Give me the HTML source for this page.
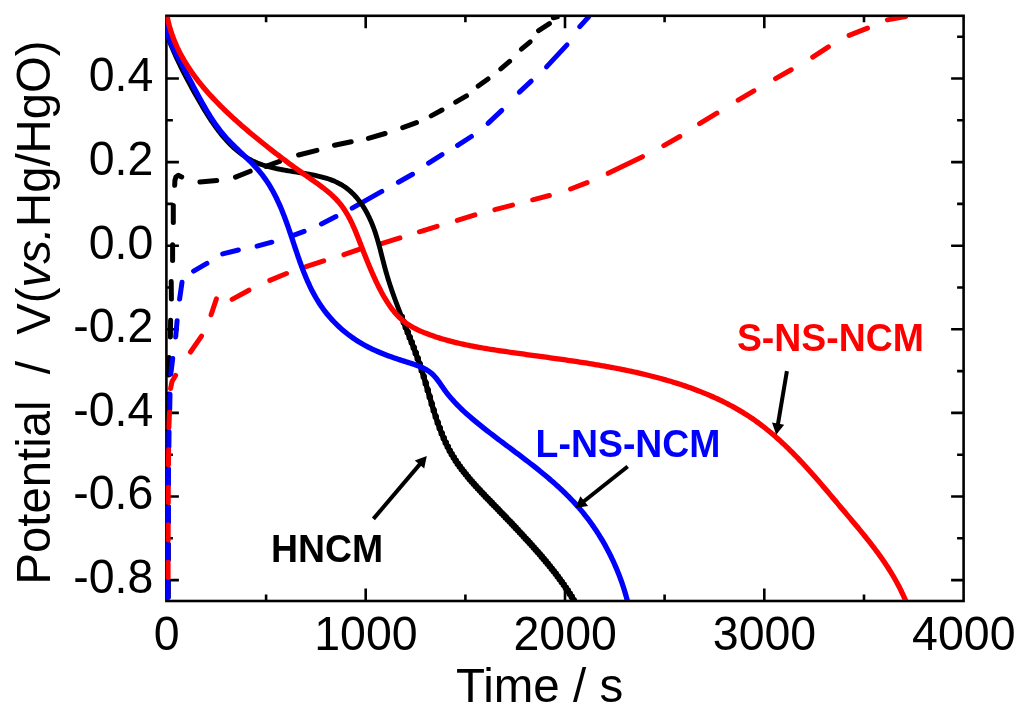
<!DOCTYPE html>
<html><head><meta charset="utf-8"><style>
html,body{margin:0;padding:0;background:#fff;width:1024px;height:714px;overflow:hidden;}
svg{display:block;font-family:"Liberation Sans",sans-serif;will-change:transform;}
</style></head><body>
<svg width="1024" height="714" viewBox="0 0 1024 714">
<rect width="1024" height="714" fill="#fff"/>
<path d="M266.1,601.0 V594.5 M266.1,15.8 V22.3 M365.7,601.0 V588.5 M365.7,15.8 V28.3 M465.4,601.0 V594.5 M465.4,15.8 V22.3 M565.0,601.0 V588.5 M565.0,15.8 V28.3 M664.6,601.0 V594.5 M664.6,15.8 V22.3 M764.3,601.0 V588.5 M764.3,15.8 V28.3 M864.0,601.0 V594.5 M864.0,15.8 V22.3 M166.4,580.1 H178.9 M963.6,580.1 H951.1 M166.4,538.3 H172.9 M963.6,538.3 H957.1 M166.4,496.5 H178.9 M963.6,496.5 H951.1 M166.4,454.7 H172.9 M963.6,454.7 H957.1 M166.4,412.9 H178.9 M963.6,412.9 H951.1 M166.4,371.1 H172.9 M963.6,371.1 H957.1 M166.4,329.3 H178.9 M963.6,329.3 H951.1 M166.4,287.5 H172.9 M963.6,287.5 H957.1 M166.4,245.7 H178.9 M963.6,245.7 H951.1 M166.4,203.9 H172.9 M963.6,203.9 H957.1 M166.4,162.1 H178.9 M963.6,162.1 H951.1 M166.4,120.3 H172.9 M963.6,120.3 H957.1 M166.4,78.5 H178.9 M963.6,78.5 H951.1 M166.4,36.7 H172.9 M963.6,36.7 H957.1" stroke="#000" stroke-width="2.6" fill="none"/>
<rect x="166.4" y="15.8" width="797.2" height="585.2" fill="none" stroke="#000" stroke-width="2.6"/>
<defs><clipPath id="pc"><rect x="165.8" y="16.8" width="796.5" height="583.3"/></clipPath></defs>
<g clip-path="url(#pc)" fill="none" stroke-linecap="round" stroke-linejoin="round">
<path d="M168.3,597.0 L168.3,581.5" stroke="#000" stroke-width="5.0"/>
<path d="M168.3,559.5 L168.3,544.0" stroke="#000" stroke-width="5.0"/>
<path d="M168.3,522.0 L168.3,506.5" stroke="#000" stroke-width="5.0"/>
<path d="M168.4,484.5 L168.4,469.0" stroke="#000" stroke-width="5.0"/>
<path d="M168.6,447.0 L168.6,431.5" stroke="#000" stroke-width="5.0"/>
<path d="M168.8,409.5 L168.8,394.0" stroke="#000" stroke-width="5.0"/>
<path d="M168.9,375.1 L169.0,357.5" stroke="#000" stroke-width="5.0"/>
<path d="M170.4,337.0 L170.6,320.3" stroke="#000" stroke-width="5.0"/>
<path d="M171.4,299.1 L171.2,281.6" stroke="#000" stroke-width="5.0"/>
<path d="M172.6,260.4 L172.6,244.8" stroke="#000" stroke-width="5.0"/>
<path d="M173.3,222.4 L173.3,205.6" stroke="#000" stroke-width="5.0"/>
<path d="M174.7,185.3 L174.9,180.5 L175.9,177.0 L178.3,175.3 L181.7,176.9" stroke="#000" stroke-width="5.0"/>
<path d="M199.9,182.1 L216.7,180.4" stroke="#000" stroke-width="5.0"/>
<path d="M235.5,177.1 L250.2,171.2" stroke="#000" stroke-width="5.0"/>
<path d="M265.9,166.3 L279.6,161.4" stroke="#000" stroke-width="5.0"/>
<path d="M298.6,155.0 L316.9,150.3" stroke="#000" stroke-width="5.0"/>
<path d="M334.5,145.3 L351.2,141.8" stroke="#000" stroke-width="5.0"/>
<path d="M368.4,138.4 L385.1,133.5" stroke="#000" stroke-width="5.0"/>
<path d="M402.7,127.6 L416.5,122.7" stroke="#000" stroke-width="5.0"/>
<path d="M431.2,115.9 L442.0,110.0" stroke="#000" stroke-width="5.0"/>
<path d="M455.7,102.2 L466.5,95.9" stroke="#000" stroke-width="5.0"/>
<path d="M478.2,86.1 L488.0,79.0" stroke="#000" stroke-width="5.0"/>
<path d="M500.8,68.8 L509.6,61.4" stroke="#000" stroke-width="5.0"/>
<path d="M521.4,49.2 L530.2,41.8" stroke="#000" stroke-width="5.0"/>
<path d="M538.6,30.6 L549.4,23.7" stroke="#000" stroke-width="5.0"/>
<path d="M553.3,17.8 L557.3,16.9" stroke="#000" stroke-width="5.0"/>
<path d="M168.1,597.5 L168.1,581.8" stroke="#00f" stroke-width="5.0"/>
<path d="M168.2,559.7 L168.2,544.3" stroke="#00f" stroke-width="5.0"/>
<path d="M168.4,522.2 L168.4,506.8" stroke="#00f" stroke-width="5.0"/>
<path d="M168.5,484.7 L168.5,469.3" stroke="#00f" stroke-width="5.0"/>
<path d="M168.8,447.2 L169.0,431.8" stroke="#00f" stroke-width="5.0"/>
<path d="M169.7,409.7 L170.0,394.3" stroke="#00f" stroke-width="5.0"/>
<path d="M170.8,374.1 L172.7,358.4" stroke="#00f" stroke-width="5.0"/>
<path d="M175.7,336.9 L177.1,320.8" stroke="#00f" stroke-width="5.0"/>
<path d="M179.6,299.1 L182.0,282.3" stroke="#00f" stroke-width="5.0"/>
<path d="M193.6,271.1 L206.9,263.4" stroke="#00f" stroke-width="5.0"/>
<path d="M222.7,253.9 L238.4,250.0" stroke="#00f" stroke-width="5.0"/>
<path d="M257.1,246.1 L271.8,242.2" stroke="#00f" stroke-width="5.0"/>
<path d="M293.3,235.3 L304.1,231.4" stroke="#00f" stroke-width="5.0"/>
<path d="M321.4,223.9 L335.9,216.6" stroke="#00f" stroke-width="5.0"/>
<path d="M352.2,208.2 L381.8,191.4" stroke="#00f" stroke-width="5.0"/>
<path d="M398.4,182.2 L412.5,174.3" stroke="#00f" stroke-width="5.0"/>
<path d="M428.6,163.1 L442.0,154.7" stroke="#00f" stroke-width="5.0"/>
<path d="M457.6,145.3 L471.4,136.5" stroke="#00f" stroke-width="5.0"/>
<path d="M488.0,123.3 L501.8,110.4" stroke="#00f" stroke-width="5.0"/>
<path d="M519.4,92.2 L531.2,81.2" stroke="#00f" stroke-width="5.0"/>
<path d="M546.5,66.9 L567.0,44.9" stroke="#00f" stroke-width="5.0"/>
<path d="M579.8,26.7 L588.6,16.9" stroke="#00f" stroke-width="5.0"/>
<path d="M168.1,577.6 L168.1,562.2" stroke="#f00" stroke-width="5.0"/>
<path d="M168.2,540.1 L168.2,524.7" stroke="#f00" stroke-width="5.0"/>
<path d="M168.3,502.6 L168.3,487.2" stroke="#f00" stroke-width="5.0"/>
<path d="M168.5,465.1 L168.6,449.7" stroke="#f00" stroke-width="5.0"/>
<path d="M168.9,427.6 L169.5,412.2" stroke="#f00" stroke-width="5.0"/>
<path d="M170.6,388.5 L172.0,381.5 L175.6,375.5" stroke="#f00" stroke-width="5.0"/>
<path d="M190.5,352.0 L201.5,336.1" stroke="#f00" stroke-width="5.0"/>
<path d="M211.1,314.8 L216.4,298.9" stroke="#f00" stroke-width="5.0"/>
<path d="M232.1,299.4 L248.9,290.2" stroke="#f00" stroke-width="5.0"/>
<path d="M269.8,280.4 L286.5,273.5" stroke="#f00" stroke-width="5.0"/>
<path d="M306.1,266.7 L323.7,260.8" stroke="#f00" stroke-width="5.0"/>
<path d="M343.9,254.7 L360.6,248.8" stroke="#f00" stroke-width="5.0"/>
<path d="M381.5,243.7 L399.9,237.9" stroke="#f00" stroke-width="5.0"/>
<path d="M419.4,231.8 L437.1,226.3" stroke="#f00" stroke-width="5.0"/>
<path d="M457.3,220.4 L474.9,214.9" stroke="#f00" stroke-width="5.0"/>
<path d="M494.9,209.6 L512.5,205.1" stroke="#f00" stroke-width="5.0"/>
<path d="M532.7,199.8 L549.4,195.5" stroke="#f00" stroke-width="5.0"/>
<path d="M570.6,189.0 L587.1,182.7" stroke="#f00" stroke-width="5.0"/>
<path d="M608.2,173.3 L642.5,156.7" stroke="#f00" stroke-width="5.0"/>
<path d="M663.8,145.6 L679.8,136.5" stroke="#f00" stroke-width="5.0"/>
<path d="M699.6,123.7 L716.9,113.2" stroke="#f00" stroke-width="5.0"/>
<path d="M738.2,100.2 L753.9,90.8" stroke="#f00" stroke-width="5.0"/>
<path d="M775.5,78.6 L791.2,69.8" stroke="#f00" stroke-width="5.0"/>
<path d="M812.7,57.1 L828.4,46.9" stroke="#f00" stroke-width="5.0"/>
<path d="M849.1,35.3 L867.5,28.2" stroke="#f00" stroke-width="5.0"/>
<path d="M887.4,19.9 L905.7,16.5" stroke="#f00" stroke-width="5.0"/>
<path d="M163.39,24.76 L164.03,26.67 L164.68,28.56 L165.35,30.45 L166.02,32.33 L166.71,34.20 L167.40,36.06 L168.11,37.92 L168.83,39.77 L169.56,41.61 L170.30,43.44 L171.05,45.27 L171.81,47.09 L172.58,48.91 L173.36,50.72 L174.15,52.52 L174.95,54.32 L175.76,56.12 L176.58,57.91 L177.41,59.70 L178.25,61.48 L179.10,63.26 L179.95,65.04 L180.82,66.81 L181.70,68.58 L182.58,70.35 L183.47,72.12 L184.37,73.88 L185.28,75.65 L186.20,77.41 L187.12,79.17 L188.06,80.93 L189.00,82.69 L189.95,84.45 L190.90,86.21 L191.87,87.97 L192.84,89.73 L193.82,91.49 L194.81,93.25 L195.80,95.02 L196.80,96.78 L197.81,98.55 L198.82,100.32 L199.84,102.09 L200.87,103.86 L201.91,105.63 L202.95,107.39 L204.01,109.15 L205.07,110.91 L206.15,112.66 L207.23,114.40 L208.33,116.14 L209.44,117.86 L210.56,119.58 L211.69,121.28 L212.84,122.97 L214.00,124.65 L215.18,126.31 L216.36,127.95 L217.57,129.58 L218.79,131.19 L220.02,132.78 L221.27,134.35 L222.54,135.90 L223.83,137.42 L225.13,138.92 L226.45,140.40 L227.79,141.85 L229.15,143.27 L230.53,144.67 L231.92,146.03 L233.34,147.37 L234.78,148.67 L236.25,149.94 L237.73,151.17 L239.24,152.38 L240.76,153.54 L242.32,154.67 L243.89,155.76 L245.49,156.81 L247.12,157.82 L248.77,158.79 L250.45,159.71 L252.15,160.60 L253.88,161.43 L255.63,162.23 L257.41,162.98 L259.22,163.68 L261.05,164.35 L262.90,164.99 L264.77,165.59 L266.66,166.15 L268.58,166.69 L270.50,167.20 L272.45,167.68 L274.41,168.14 L276.39,168.57 L278.38,168.98 L280.39,169.38 L282.40,169.76 L284.43,170.12 L286.46,170.48 L288.51,170.82 L290.56,171.16 L292.61,171.49 L294.67,171.81 L296.74,172.14 L298.80,172.46 L300.86,172.79 L302.92,173.13 L304.97,173.47 L307.02,173.83 L309.06,174.19 L311.09,174.57 L313.11,174.97 L315.12,175.39 L317.11,175.83 L319.09,176.29 L321.05,176.78 L322.99,177.29 L324.91,177.84 L326.81,178.42 L328.69,179.03 L330.53,179.68 L332.36,180.37 L334.15,181.10 L335.91,181.88 L337.64,182.70 L339.34,183.57 L341.01,184.49 L342.63,185.47 L344.22,186.49 L345.77,187.58 L347.28,188.71 L348.76,189.89 L350.20,191.12 L351.60,192.40 L352.97,193.72 L354.30,195.08 L355.59,196.49 L356.86,197.94 L358.08,199.42 L359.28,200.95 L360.43,202.51 L361.56,204.10 L362.65,205.72 L363.71,207.37 L364.74,209.06 L365.74,210.77 L366.70,212.50 L367.63,214.26 L368.54,216.05 L369.41,217.85 L370.25,219.67 L371.06,221.51 L371.84,223.37 L372.60,225.24 L373.32,227.12 L374.02,229.01 L374.70,230.92 L375.35,232.83 L375.97,234.76 L376.58,236.69 L377.17,238.63 L377.74,240.58 L378.30,242.54 L378.85,244.49 L379.38,246.46 L379.90,248.43 L380.42,250.39 L380.93,252.37 L381.43,254.34 L381.93,256.31 L382.43,258.28 L382.94,260.25 L383.44,262.22 L383.95,264.19 L384.46,266.15 L384.98,268.11 L385.51,270.06 L386.06,272.00 L386.61,273.94 L387.18,275.87 L387.75,277.80 L388.34,279.71 L388.94,281.63 L389.55,283.53 L390.17,285.43 L390.80,287.33 L391.43,289.22 L392.08,291.11 L392.73,292.99 L393.39,294.86 L394.06,296.74 L394.74,298.61 L395.42,300.47 L396.10,302.33 L396.80,304.19 L397.50,306.05 L398.20,307.90 L398.91,309.75 L399.62,311.60 L400.33,313.45 L401.05,315.29 L401.77,317.14 L402.49,318.98 L403.22,320.82 L403.95,322.66 L404.67,324.50 L405.40,326.34 L406.13,328.18 L406.86,330.02 L407.58,331.86 L408.31,333.71 L409.04,335.55 L409.76,337.39 L410.48,339.24 L411.20,341.08 L411.91,342.93 L412.62,344.78 L413.33,346.64 L414.03,348.49 L414.73,350.35 L415.43,352.21 L416.11,354.08 L416.79,355.95 L417.47,357.82 L418.14,359.70 L418.80,361.58 L419.45,363.46 L420.10,365.35 L420.73,367.25 L421.36,369.15 L421.98,371.06 L422.59,372.97 L423.19,374.89 L423.79,376.81 L424.37,378.73 L424.95,380.66 L425.53,382.59 L426.10,384.53 L426.67,386.46 L427.24,388.40 L427.80,390.34 L428.37,392.28 L428.93,394.22 L429.49,396.16 L430.06,398.10 L430.62,400.04 L431.19,401.98 L431.77,403.91 L432.34,405.84 L432.93,407.78 L433.51,409.70 L434.11,411.63 L434.71,413.54 L435.32,415.46 L435.95,417.37 L436.58,419.27 L437.22,421.17 L437.87,423.06 L438.54,424.95 L439.21,426.82 L439.91,428.69 L440.61,430.55 L441.34,432.41 L442.07,434.25 L442.83,436.08 L443.60,437.91 L444.40,439.72 L445.21,441.52 L446.04,443.31 L446.89,445.09 L447.77,446.86 L448.67,448.61 L449.59,450.35 L450.53,452.08 L451.50,453.79 L452.50,455.49 L453.52,457.17 L454.56,458.84 L455.63,460.50 L456.72,462.14 L457.84,463.77 L458.97,465.39 L460.13,467.00 L461.31,468.59 L462.50,470.18 L463.71,471.75 L464.94,473.31 L466.19,474.87 L467.45,476.41 L468.73,477.94 L470.02,479.47 L471.32,480.99 L472.64,482.50 L473.97,484.00 L475.31,485.50 L476.66,486.99 L478.02,488.47 L479.38,489.95 L480.76,491.43 L482.14,492.89 L483.53,494.36 L484.92,495.82 L486.32,497.28 L487.72,498.73 L489.12,500.18 L490.52,501.63 L491.93,503.08 L493.34,504.52 L494.74,505.97 L496.15,507.41 L497.55,508.86 L498.95,510.30 L500.35,511.74 L501.74,513.19 L503.14,514.63 L504.53,516.08 L505.91,517.53 L507.30,518.98 L508.68,520.42 L510.06,521.87 L511.44,523.32 L512.82,524.78 L514.19,526.23 L515.56,527.69 L516.93,529.14 L518.29,530.60 L519.65,532.06 L521.01,533.52 L522.37,534.99 L523.72,536.45 L525.08,537.92 L526.42,539.40 L527.77,540.87 L529.11,542.35 L530.46,543.83 L531.79,545.31 L533.13,546.80 L534.45,548.29 L535.78,549.78 L537.10,551.28 L538.41,552.78 L539.72,554.29 L541.03,555.80 L542.33,557.31 L543.62,558.83 L544.91,560.36 L546.19,561.89 L547.46,563.43 L548.72,564.97 L549.98,566.52 L551.23,568.07 L552.47,569.63 L553.70,571.20 L554.93,572.77 L556.14,574.35 L557.35,575.94 L558.54,577.53 L559.73,579.13 L560.90,580.74 L562.07,582.36 L563.22,583.99 L564.36,585.62 L565.49,587.26 L566.61,588.92 L567.72,590.58 L568.81,592.24 L569.89,593.92 L570.96,595.61 L572.02,597.31 L573.06,599.01 L574.09,600.73" stroke="#000" stroke-width="4.9"/>
<path d="M401.77,317.14 L402.49,318.98 L403.22,320.82 L403.95,322.66 L404.67,324.50 L405.40,326.34 L406.13,328.18 L406.86,330.02 L407.58,331.86 L408.31,333.71 L409.04,335.55 L409.76,337.39 L410.48,339.24 L411.20,341.08 L411.91,342.93 L412.62,344.78 L413.33,346.64 L414.03,348.49 L414.73,350.35 L415.43,352.21 L416.11,354.08 L416.79,355.95 L417.47,357.82 L418.14,359.70 L418.80,361.58 L419.45,363.46 L420.10,365.35 L420.73,367.25 L421.36,369.15 L421.98,371.06 L422.59,372.97 L423.19,374.89 L423.79,376.81 L424.37,378.73 L424.95,380.66 L425.53,382.59 L426.10,384.53 L426.67,386.46 L427.24,388.40 L427.80,390.34 L428.37,392.28 L428.93,394.22 L429.49,396.16 L430.06,398.10 L430.62,400.04 L431.19,401.98 L431.77,403.91 L432.34,405.84 L432.93,407.78 L433.51,409.70 L434.11,411.63 L434.71,413.54 L435.32,415.46 L435.95,417.37 L436.58,419.27 L437.22,421.17 L437.87,423.06 L438.54,424.95 L439.21,426.82 L439.91,428.69 L440.61,430.55 L441.34,432.41 L442.07,434.25 L442.83,436.08 L443.60,437.91 L444.40,439.72 L445.21,441.52 L446.04,443.31 L446.89,445.09 L447.77,446.86 L448.67,448.61 L449.59,450.35 L450.53,452.08 L451.50,453.79 L452.50,455.49 L453.52,457.17 L454.56,458.84 L455.63,460.50 L456.72,462.14 L457.84,463.77 L458.97,465.39 L460.13,467.00 L461.31,468.59 L462.50,470.18 L463.71,471.75 L464.94,473.31 L466.19,474.87 L467.45,476.41 L468.73,477.94 L470.02,479.47 L471.32,480.99 L472.64,482.50 L473.97,484.00 L475.31,485.50 L476.66,486.99 L478.02,488.47 L479.38,489.95 L480.76,491.43 L482.14,492.89 L483.53,494.36 L484.92,495.82 L486.32,497.28 L487.72,498.73 L489.12,500.18 L490.52,501.63 L491.93,503.08 L493.34,504.52 L494.74,505.97 L496.15,507.41 L497.55,508.86 L498.95,510.30 L500.35,511.74 L501.74,513.19 L503.14,514.63 L504.53,516.08 L505.91,517.53 L507.30,518.98 L508.68,520.42 L510.06,521.87 L511.44,523.32 L512.82,524.78 L514.19,526.23 L515.56,527.69 L516.93,529.14 L518.29,530.60 L519.65,532.06 L521.01,533.52 L522.37,534.99 L523.72,536.45 L525.08,537.92 L526.42,539.40 L527.77,540.87 L529.11,542.35 L530.46,543.83 L531.79,545.31 L533.13,546.80 L534.45,548.29 L535.78,549.78 L537.10,551.28 L538.41,552.78 L539.72,554.29 L541.03,555.80 L542.33,557.31 L543.62,558.83 L544.91,560.36 L546.19,561.89 L547.46,563.43 L548.72,564.97 L549.98,566.52 L551.23,568.07 L552.47,569.63 L553.70,571.20 L554.93,572.77 L556.14,574.35 L557.35,575.94 L558.54,577.53 L559.73,579.13 L560.90,580.74 L562.07,582.36 L563.22,583.99 L564.36,585.62 L565.49,587.26 L566.61,588.92 L567.72,590.58 L568.81,592.24 L569.89,593.92 L570.96,595.61 L572.02,597.31 L573.06,599.01 L574.09,600.73" stroke="#000" stroke-width="5.2"/>
<path d="M401.77,317.14 h0 M403.77,322.22 h0 M405.77,327.28 h0 M407.77,332.34 h0 M409.77,337.43 h0 M411.77,342.57 h0 M413.77,347.80 h0 M415.77,353.15 h0 M417.77,358.67 h0 M419.77,364.40 h0 M421.77,370.41 h0 M423.77,376.76 h0 M425.77,383.40 h0 M427.77,390.23 h0 M429.77,397.12 h0 M431.77,403.93 h0 M433.77,410.53 h0 M435.77,416.83 h0 M437.77,422.78 h0 M439.77,428.33 h0 M441.77,433.49 h0 M443.77,438.29 h0 M445.77,442.74 h0 M447.77,446.87 h0 M449.77,450.69 h0 M451.77,454.25 h0 M453.77,457.58 h0 M455.77,460.71 h0 M457.77,463.68 h0 M459.77,466.50 h0 M461.77,469.21 h0 M463.77,471.82 h0 M465.77,474.35 h0 M467.77,476.79 h0 M469.77,479.18 h0 M471.77,481.50 h0 M473.77,483.78 h0 M475.77,486.01 h0 M477.77,488.21 h0 M479.77,490.37 h0 M481.77,492.50 h0 M483.77,494.62 h0 M485.77,496.71 h0 M487.77,498.79 h0 M489.77,500.85 h0 M491.77,502.91 h0 M493.77,504.97 h0 M495.77,507.02 h0 M497.77,509.08 h0 M499.77,511.15 h0 M501.77,513.22 h0 M503.77,515.30 h0 M505.77,517.38 h0 M507.77,519.47 h0 M509.77,521.57 h0 M511.77,523.67 h0 M513.77,525.79 h0 M515.77,527.91 h0 M517.77,530.05 h0 M519.77,532.19 h0 M521.77,534.34 h0 M523.77,536.51 h0 M525.77,538.68 h0 M527.77,540.87 h0 M529.77,543.07 h0 M531.77,545.29 h0 M533.77,547.52 h0 M535.77,549.77 h0 M537.77,552.05 h0 M539.77,554.34 h0 M541.77,556.66 h0 M543.77,559.01 h0 M545.77,561.39 h0 M547.77,563.81 h0 M549.77,566.26 h0 M551.77,568.75 h0 M553.77,571.29 h0 M555.77,573.87 h0 M557.77,576.51 h0 M559.77,579.20 h0 M561.77,581.95 h0 M563.77,584.78 h0 M565.77,587.68 h0 M567.77,590.66 h0 M569.77,593.73 h0 M571.77,596.91 h0 M573.77,600.21 h0" stroke="#000" stroke-width="6.6" stroke-linecap="round"/>
<path d="M166.02,23.92 L166.22,26.00 L166.49,28.04 L166.84,30.04 L167.26,32.02 L167.74,33.97 L168.28,35.89 L168.88,37.78 L169.53,39.66 L170.23,41.51 L170.97,43.34 L171.76,45.16 L172.58,46.96 L173.43,48.75 L174.31,50.53 L175.21,52.30 L176.13,54.06 L177.07,55.82 L178.01,57.57 L178.97,59.33 L179.92,61.08 L180.88,62.84 L181.83,64.60 L182.77,66.36 L183.72,68.13 L184.66,69.90 L185.60,71.67 L186.54,73.45 L187.47,75.22 L188.41,77.00 L189.34,78.77 L190.27,80.55 L191.21,82.32 L192.14,84.10 L193.08,85.87 L194.02,87.64 L194.95,89.41 L195.90,91.17 L196.84,92.94 L197.78,94.70 L198.73,96.45 L199.69,98.20 L200.64,99.95 L201.61,101.69 L202.58,103.43 L203.55,105.16 L204.54,106.88 L205.53,108.60 L206.54,110.30 L207.55,112.00 L208.58,113.69 L209.62,115.38 L210.67,117.05 L211.74,118.71 L212.83,120.36 L213.93,122.00 L215.05,123.63 L216.19,125.25 L217.35,126.85 L218.54,128.44 L219.74,130.02 L220.96,131.58 L222.21,133.13 L223.49,134.67 L224.79,136.18 L226.11,137.69 L227.47,139.17 L228.84,140.65 L230.24,142.11 L231.66,143.55 L233.10,144.99 L234.55,146.42 L236.01,147.84 L237.48,149.26 L238.96,150.67 L240.44,152.08 L241.92,153.49 L243.40,154.90 L244.88,156.31 L246.36,157.72 L247.82,159.14 L249.28,160.56 L250.72,161.99 L252.14,163.44 L253.55,164.89 L254.93,166.35 L256.30,167.83 L257.63,169.32 L258.94,170.83 L260.22,172.36 L261.46,173.90 L262.68,175.47 L263.86,177.05 L265.01,178.65 L266.14,180.26 L267.24,181.89 L268.31,183.54 L269.35,185.20 L270.37,186.88 L271.37,188.57 L272.34,190.28 L273.29,192.00 L274.21,193.73 L275.12,195.47 L276.00,197.23 L276.86,199.00 L277.71,200.78 L278.54,202.57 L279.35,204.37 L280.14,206.18 L280.92,208.00 L281.68,209.83 L282.43,211.66 L283.16,213.51 L283.89,215.36 L284.60,217.22 L285.30,219.09 L285.99,220.96 L286.67,222.84 L287.34,224.72 L288.01,226.61 L288.66,228.50 L289.32,230.40 L289.96,232.30 L290.61,234.20 L291.25,236.10 L291.88,238.01 L292.52,239.92 L293.15,241.83 L293.78,243.74 L294.42,245.65 L295.05,247.56 L295.69,249.46 L296.33,251.37 L296.97,253.28 L297.62,255.18 L298.27,257.08 L298.93,258.98 L299.60,260.87 L300.27,262.76 L300.96,264.65 L301.65,266.53 L302.35,268.40 L303.07,270.27 L303.79,272.14 L304.53,273.99 L305.28,275.84 L306.05,277.68 L306.83,279.52 L307.62,281.34 L308.44,283.16 L309.27,284.96 L310.12,286.76 L310.99,288.54 L311.87,290.32 L312.78,292.08 L313.71,293.83 L314.67,295.57 L315.64,297.29 L316.64,299.01 L317.67,300.70 L318.72,302.39 L319.79,304.06 L320.90,305.71 L322.03,307.35 L323.19,308.98 L324.38,310.58 L325.60,312.17 L326.85,313.74 L328.13,315.30 L329.43,316.83 L330.76,318.35 L332.12,319.84 L333.50,321.31 L334.91,322.77 L336.34,324.20 L337.79,325.60 L339.27,326.99 L340.76,328.35 L342.27,329.68 L343.81,330.99 L345.36,332.27 L346.93,333.53 L348.51,334.75 L350.11,335.95 L351.73,337.12 L353.36,338.27 L355.00,339.38 L356.66,340.46 L358.33,341.51 L360.01,342.54 L361.70,343.54 L363.41,344.51 L365.13,345.46 L366.86,346.38 L368.61,347.28 L370.36,348.16 L372.13,349.02 L373.91,349.85 L375.71,350.67 L377.51,351.47 L379.33,352.24 L381.15,353.01 L382.99,353.75 L384.84,354.48 L386.71,355.20 L388.58,355.90 L390.46,356.59 L392.36,357.27 L394.26,357.93 L396.18,358.59 L398.10,359.23 L400.04,359.87 L401.99,360.50 L403.95,361.13 L405.91,361.74 L407.89,362.36 L409.86,362.98 L411.83,363.61 L413.79,364.26 L415.73,364.94 L417.65,365.65 L419.54,366.39 L421.39,367.19 L423.21,368.03 L424.97,368.93 L426.68,369.90 L428.33,370.95 L429.91,372.07 L431.42,373.28 L432.85,374.58 L434.21,375.96 L435.51,377.43 L436.75,378.95 L437.95,380.53 L439.12,382.15 L440.27,383.79 L441.40,385.45 L442.54,387.10 L443.69,388.75 L444.85,390.37 L446.05,391.97 L447.26,393.54 L448.49,395.09 L449.75,396.62 L451.02,398.12 L452.32,399.61 L453.63,401.07 L454.97,402.51 L456.32,403.94 L457.68,405.34 L459.07,406.73 L460.47,408.11 L461.88,409.47 L463.31,410.81 L464.75,412.14 L466.20,413.46 L467.67,414.77 L469.15,416.06 L470.63,417.35 L472.13,418.62 L473.64,419.89 L475.16,421.15 L476.68,422.41 L478.21,423.65 L479.75,424.90 L481.30,426.13 L482.85,427.37 L484.41,428.60 L485.97,429.83 L487.54,431.05 L489.11,432.27 L490.69,433.48 L492.27,434.70 L493.86,435.91 L495.45,437.12 L497.04,438.33 L498.63,439.53 L500.23,440.74 L501.83,441.94 L503.43,443.15 L505.04,444.35 L506.64,445.55 L508.25,446.75 L509.85,447.95 L511.46,449.16 L513.07,450.36 L514.68,451.57 L516.28,452.77 L517.89,453.98 L519.50,455.19 L521.10,456.40 L522.70,457.61 L524.30,458.83 L525.90,460.05 L527.49,461.27 L529.08,462.50 L530.67,463.73 L532.26,464.96 L533.84,466.20 L535.42,467.44 L536.99,468.69 L538.55,469.94 L540.12,471.20 L541.67,472.46 L543.22,473.73 L544.77,475.00 L546.31,476.29 L547.84,477.57 L549.36,478.87 L550.88,480.17 L552.39,481.48 L553.89,482.80 L555.39,484.12 L556.87,485.45 L558.35,486.79 L559.81,488.14 L561.27,489.50 L562.72,490.87 L564.15,492.25 L565.58,493.64 L567.00,495.04 L568.40,496.44 L569.79,497.86 L571.18,499.29 L572.55,500.73 L573.90,502.18 L575.25,503.65 L576.58,505.12 L577.90,506.61 L579.20,508.11 L580.49,509.62 L581.77,511.15 L583.03,512.68 L584.28,514.23 L585.52,515.79 L586.74,517.36 L587.95,518.94 L589.14,520.54 L590.32,522.14 L591.49,523.76 L592.64,525.38 L593.77,527.02 L594.90,528.67 L596.01,530.33 L597.10,531.99 L598.18,533.67 L599.24,535.35 L600.29,537.05 L601.33,538.75 L602.35,540.47 L603.35,542.19 L604.34,543.92 L605.32,545.66 L606.28,547.41 L607.23,549.17 L608.16,550.93 L609.08,552.70 L609.98,554.48 L610.86,556.27 L611.73,558.06 L612.59,559.87 L613.43,561.67 L614.25,563.49 L615.06,565.31 L615.85,567.14 L616.63,568.98 L617.39,570.82 L618.14,572.66 L618.87,574.52 L619.58,576.37 L620.28,578.24 L620.96,580.11 L621.63,581.98 L622.28,583.86 L622.92,585.74 L623.53,587.63 L624.14,589.52 L624.72,591.42 L625.29,593.32 L625.84,595.22 L626.38,597.13 L626.90,599.04 L627.41,600.96" stroke="#00f" stroke-width="5.3"/>
<path d="M166.76,14.75 L167.16,16.81 L167.59,18.85 L168.04,20.87 L168.53,22.88 L169.04,24.86 L169.59,26.84 L170.16,28.79 L170.76,30.74 L171.38,32.66 L172.04,34.57 L172.72,36.47 L173.42,38.35 L174.15,40.21 L174.91,42.06 L175.69,43.90 L176.50,45.72 L177.32,47.53 L178.18,49.32 L179.05,51.10 L179.95,52.87 L180.87,54.62 L181.81,56.36 L182.77,58.09 L183.76,59.81 L184.76,61.51 L185.79,63.20 L186.83,64.88 L187.90,66.54 L188.98,68.20 L190.08,69.84 L191.20,71.47 L192.33,73.09 L193.48,74.70 L194.65,76.29 L195.84,77.88 L197.04,79.46 L198.26,81.02 L199.49,82.58 L200.74,84.13 L202.00,85.66 L203.27,87.19 L204.56,88.71 L205.86,90.22 L207.17,91.72 L208.50,93.21 L209.83,94.69 L211.18,96.16 L212.54,97.63 L213.91,99.09 L215.29,100.54 L216.67,101.98 L218.07,103.41 L219.48,104.84 L220.90,106.26 L222.32,107.67 L223.75,109.08 L225.19,110.47 L226.64,111.86 L228.10,113.24 L229.56,114.62 L231.03,115.99 L232.51,117.35 L233.99,118.70 L235.48,120.05 L236.97,121.39 L238.47,122.73 L239.98,124.06 L241.49,125.38 L243.00,126.70 L244.52,128.01 L246.04,129.31 L247.57,130.61 L249.09,131.90 L250.63,133.19 L252.16,134.47 L253.70,135.74 L255.24,137.01 L256.78,138.28 L258.32,139.54 L259.86,140.79 L261.40,142.04 L262.95,143.28 L264.50,144.52 L266.05,145.75 L267.60,146.98 L269.15,148.21 L270.71,149.43 L272.26,150.65 L273.82,151.86 L275.39,153.06 L276.95,154.27 L278.52,155.47 L280.09,156.66 L281.66,157.86 L283.24,159.05 L284.82,160.23 L286.40,161.41 L287.99,162.59 L289.58,163.77 L291.18,164.94 L292.78,166.11 L294.38,167.28 L295.99,168.44 L297.60,169.60 L299.22,170.76 L300.84,171.92 L302.47,173.08 L304.10,174.23 L305.74,175.38 L307.38,176.53 L309.02,177.68 L310.67,178.83 L312.32,179.98 L313.97,181.13 L315.61,182.29 L317.24,183.46 L318.87,184.64 L320.49,185.83 L322.09,187.03 L323.68,188.25 L325.25,189.48 L326.80,190.74 L328.33,192.01 L329.84,193.30 L331.32,194.62 L332.77,195.96 L334.19,197.33 L335.58,198.73 L336.94,200.15 L338.26,201.61 L339.54,203.11 L340.77,204.64 L341.97,206.20 L343.13,207.80 L344.25,209.44 L345.33,211.10 L346.37,212.79 L347.38,214.51 L348.36,216.25 L349.32,218.02 L350.24,219.81 L351.14,221.62 L352.01,223.44 L352.86,225.28 L353.69,227.13 L354.50,228.99 L355.30,230.87 L356.08,232.75 L356.85,234.63 L357.60,236.52 L358.35,238.41 L359.08,240.30 L359.82,242.19 L360.54,244.07 L361.27,245.95 L361.99,247.82 L362.72,249.68 L363.44,251.54 L364.17,253.39 L364.90,255.23 L365.63,257.07 L366.37,258.91 L367.11,260.74 L367.86,262.57 L368.61,264.39 L369.37,266.21 L370.13,268.03 L370.91,269.85 L371.69,271.67 L372.49,273.49 L373.29,275.31 L374.11,277.13 L374.94,278.95 L375.78,280.77 L376.63,282.59 L377.51,284.41 L378.39,286.22 L379.30,288.03 L380.22,289.83 L381.17,291.63 L382.13,293.41 L383.12,295.19 L384.12,296.96 L385.16,298.71 L386.22,300.45 L387.30,302.17 L388.41,303.87 L389.55,305.54 L390.71,307.19 L391.91,308.82 L393.14,310.41 L394.40,311.96 L395.69,313.48 L397.02,314.96 L398.38,316.40 L399.77,317.79 L401.21,319.13 L402.68,320.43 L404.19,321.66 L405.73,322.85 L407.32,323.97 L408.95,325.04 L410.60,326.07 L412.29,327.04 L414.01,327.98 L415.75,328.87 L417.51,329.73 L419.30,330.55 L421.10,331.34 L422.92,332.10 L424.75,332.84 L426.60,333.56 L428.45,334.26 L430.31,334.94 L432.18,335.61 L434.05,336.26 L435.93,336.89 L437.82,337.50 L439.72,338.10 L441.62,338.68 L443.53,339.25 L445.45,339.80 L447.37,340.34 L449.30,340.86 L451.23,341.37 L453.17,341.87 L455.11,342.35 L457.06,342.83 L459.01,343.29 L460.97,343.73 L462.93,344.17 L464.89,344.60 L466.86,345.01 L468.83,345.42 L470.81,345.81 L472.78,346.20 L474.76,346.57 L476.75,346.94 L478.73,347.30 L480.72,347.66 L482.71,348.00 L484.70,348.34 L486.69,348.67 L488.68,349.00 L490.67,349.32 L492.67,349.63 L494.66,349.94 L496.65,350.25 L498.65,350.55 L500.64,350.85 L502.63,351.14 L504.62,351.43 L506.61,351.72 L508.60,352.00 L510.59,352.29 L512.57,352.57 L514.56,352.85 L516.54,353.13 L518.52,353.41 L520.51,353.68 L522.48,353.96 L524.46,354.23 L526.44,354.51 L528.42,354.78 L530.39,355.05 L532.37,355.32 L534.34,355.59 L536.31,355.86 L538.28,356.13 L540.25,356.40 L542.22,356.67 L544.19,356.94 L546.15,357.21 L548.12,357.48 L550.09,357.76 L552.05,358.03 L554.02,358.30 L555.98,358.58 L557.94,358.85 L559.90,359.13 L561.87,359.41 L563.83,359.69 L565.79,359.98 L567.75,360.26 L569.71,360.55 L571.67,360.83 L573.62,361.13 L575.58,361.42 L577.54,361.72 L579.50,362.01 L581.45,362.32 L583.41,362.62 L585.37,362.93 L587.33,363.24 L589.28,363.55 L591.24,363.87 L593.19,364.19 L595.15,364.52 L597.11,364.85 L599.06,365.18 L601.02,365.52 L602.98,365.86 L604.93,366.21 L606.89,366.56 L608.85,366.91 L610.80,367.27 L612.76,367.64 L614.72,368.01 L616.67,368.38 L618.63,368.77 L620.59,369.15 L622.55,369.54 L624.51,369.94 L626.47,370.35 L628.43,370.76 L630.39,371.17 L632.35,371.60 L634.31,372.03 L636.27,372.46 L638.23,372.90 L640.19,373.35 L642.15,373.81 L644.11,374.27 L646.06,374.74 L648.02,375.22 L649.98,375.71 L651.93,376.20 L653.88,376.70 L655.83,377.21 L657.78,377.73 L659.73,378.25 L661.67,378.79 L663.61,379.33 L665.55,379.88 L667.49,380.44 L669.43,381.00 L671.36,381.58 L673.28,382.17 L675.21,382.76 L677.13,383.36 L679.05,383.98 L680.96,384.60 L682.87,385.23 L684.78,385.88 L686.68,386.53 L688.58,387.19 L690.47,387.86 L692.36,388.55 L694.24,389.24 L696.12,389.94 L698.00,390.66 L699.86,391.38 L701.73,392.12 L703.58,392.87 L705.43,393.62 L707.28,394.39 L709.12,395.18 L710.95,395.97 L712.78,396.77 L714.60,397.59 L716.41,398.42 L718.22,399.26 L720.02,400.11 L721.81,400.98 L723.59,401.86 L725.37,402.75 L727.14,403.65 L728.90,404.57 L730.66,405.49 L732.40,406.44 L734.14,407.39 L735.87,408.36 L737.59,409.34 L739.30,410.34 L741.00,411.35 L742.70,412.37 L744.38,413.41 L746.05,414.46 L747.72,415.53 L749.38,416.61 L751.02,417.70 L752.66,418.81 L754.28,419.94 L755.90,421.08 L757.50,422.23 L759.10,423.40 L760.68,424.58 L762.26,425.78 L763.83,426.99 L765.38,428.21 L766.93,429.45 L768.47,430.70 L770.00,431.96 L771.52,433.23 L773.03,434.52 L774.54,435.81 L776.03,437.12 L777.52,438.44 L779.00,439.77 L780.48,441.11 L781.94,442.46 L783.40,443.82 L784.85,445.19 L786.29,446.57 L787.73,447.96 L789.16,449.36 L790.58,450.77 L792.00,452.18 L793.41,453.61 L794.81,455.04 L796.21,456.48 L797.60,457.92 L798.99,459.38 L800.37,460.84 L801.75,462.30 L803.12,463.78 L804.48,465.25 L805.85,466.74 L807.20,468.23 L808.55,469.72 L809.90,471.22 L811.25,472.73 L812.58,474.23 L813.92,475.75 L815.25,477.26 L816.58,478.78 L817.90,480.31 L819.23,481.83 L820.54,483.36 L821.86,484.89 L823.17,486.42 L824.48,487.96 L825.79,489.50 L827.10,491.04 L828.40,492.57 L829.70,494.11 L831.00,495.66 L832.30,497.20 L833.60,498.74 L834.89,500.28 L836.19,501.82 L837.48,503.36 L838.77,504.90 L840.06,506.43 L841.35,507.97 L842.65,509.50 L843.94,511.03 L845.23,512.56 L846.52,514.09 L847.81,515.61 L849.09,517.14 L850.38,518.66 L851.66,520.19 L852.94,521.71 L854.22,523.23 L855.50,524.76 L856.77,526.28 L858.05,527.81 L859.31,529.33 L860.57,530.86 L861.83,532.40 L863.09,533.93 L864.33,535.47 L865.58,537.01 L866.81,538.55 L868.05,540.10 L869.27,541.65 L870.49,543.20 L871.70,544.76 L872.91,546.33 L874.10,547.90 L875.29,549.48 L876.48,551.06 L877.65,552.65 L878.81,554.25 L879.97,555.85 L881.11,557.46 L882.25,559.08 L883.37,560.70 L884.49,562.34 L885.60,563.98 L886.69,565.64 L887.77,567.30 L888.84,568.97 L889.90,570.65 L890.95,572.34 L891.99,574.04 L893.01,575.76 L894.02,577.48 L895.01,579.22 L895.99,580.97 L896.96,582.73 L897.91,584.50 L898.85,586.29 L899.78,588.09 L900.68,589.90 L901.58,591.73 L902.45,593.57 L903.31,595.43 L904.16,597.30 L904.98,599.18 L905.79,601.09" stroke="#f00" stroke-width="5.3"/>
</g>
<path d="M786.9,371.2 L777.7,425.6" stroke="#000" stroke-width="4.0" fill="none"/><path d="M776.2,434.8 L772.0,422.6 L784.2,424.7 Z" fill="#000"/>
<path d="M627.7,466.5 L582.7,502.3" stroke="#000" stroke-width="4.0" fill="none"/><path d="M575.4,508.1 L580.4,496.2 L588.1,505.9 Z" fill="#000"/>
<path d="M373.4,518.9 L420.8,463.1" stroke="#000" stroke-width="4.0" fill="none"/><path d="M426.8,456.0 L424.2,468.6 L414.8,460.6 Z" fill="#000"/>
<text transform="translate(153.3,593.0) scale(1,1.053)" font-family="Liberation Sans, sans-serif" font-size="46.5" text-anchor="end">-0.8</text>
<text transform="translate(153.3,509.4) scale(1,1.053)" font-family="Liberation Sans, sans-serif" font-size="46.5" text-anchor="end">-0.6</text>
<text transform="translate(153.3,425.8) scale(1,1.053)" font-family="Liberation Sans, sans-serif" font-size="46.5" text-anchor="end">-0.4</text>
<text transform="translate(153.3,342.2) scale(1,1.053)" font-family="Liberation Sans, sans-serif" font-size="46.5" text-anchor="end">-0.2</text>
<text transform="translate(153.3,258.6) scale(1,1.053)" font-family="Liberation Sans, sans-serif" font-size="46.5" text-anchor="end">0.0</text>
<text transform="translate(153.3,175.0) scale(1,1.053)" font-family="Liberation Sans, sans-serif" font-size="46.5" text-anchor="end">0.2</text>
<text transform="translate(153.3,91.4) scale(1,1.053)" font-family="Liberation Sans, sans-serif" font-size="46.5" text-anchor="end">0.4</text>
<text transform="translate(166.6,650) scale(1,1.053)" font-family="Liberation Sans, sans-serif" font-size="46.5" text-anchor="middle">0</text>
<text transform="translate(365.9,650) scale(1,1.053)" font-family="Liberation Sans, sans-serif" font-size="46.5" text-anchor="middle">1000</text>
<text transform="translate(565.2,650) scale(1,1.053)" font-family="Liberation Sans, sans-serif" font-size="46.5" text-anchor="middle">2000</text>
<text transform="translate(764.5,650) scale(1,1.053)" font-family="Liberation Sans, sans-serif" font-size="46.5" text-anchor="middle">3000</text>
<text transform="translate(963.8,650) scale(1,1.053)" font-family="Liberation Sans, sans-serif" font-size="46.5" text-anchor="middle">4000</text>
<text x="456" y="702" font-family="Liberation Sans, sans-serif" font-size="47.5">Time / s</text>
<text transform="translate(50,584.5) rotate(-90)" x="0" y="0" font-family="Liberation Sans, sans-serif" font-size="47.3" xml:space="preserve">Potential  /  V(<tspan font-style="italic">vs.</tspan>Hg/HgO)</text>
<text transform="translate(736.9,351) scale(0.972,1)" font-family="Liberation Sans, sans-serif" font-size="38.5" font-weight="bold" fill="#f00">S-NS-NCM</text>
<text transform="translate(535.6,457) scale(0.972,1)" font-family="Liberation Sans, sans-serif" font-size="38.5" font-weight="bold" fill="#00f">L-NS-NCM</text>
<text transform="translate(270.9,562.1) scale(0.972,1)" font-family="Liberation Sans, sans-serif" font-size="38.5" font-weight="bold" fill="#000">HNCM</text>
</svg>
</body></html>
